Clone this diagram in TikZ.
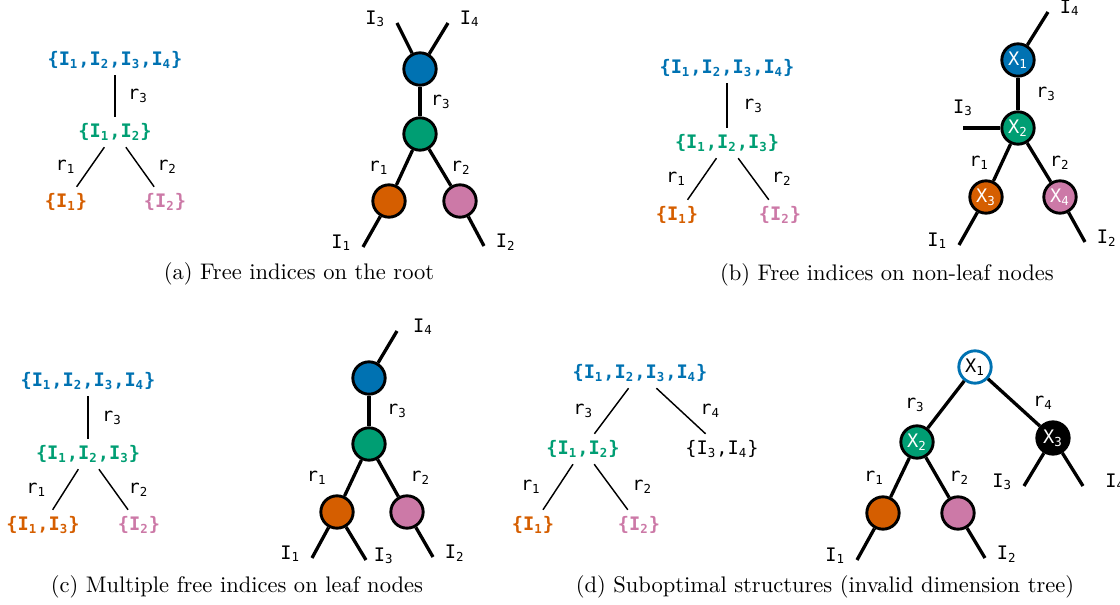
\documentclass[tikz,border=0pt]{standalone}
\usepackage{fontspec}
\setmonofont{DejaVu Sans Mono}
\usetikzlibrary{positioning}

\definecolor{cblue}{HTML}{0072B2}
\definecolor{cgreen}{HTML}{009E73}
\definecolor{corange}{HTML}{D55E00}
\definecolor{cpink}{HTML}{CC79A7}

\newcommand{\idx}[1]{I\textsubscript{#1}}
\newcommand{\rk}[1]{r\textsubscript{#1}}
\newcommand{\tn}[1]{X\textsubscript{#1}}

\tikzset{
    % Index set of a dimension tree node
    setnode/.style={
        font=\ttfamily\bfseries\small,
        inner sep=3pt
    },
    % Plain (black) index set
    plainset/.style={
        font=\ttfamily\small,
        inner sep=3pt
    },
    % Thin edge of a dimension tree
    treeline/.style={
        line width=0.7pt,
        draw=black
    },
    % Tensor of the network
    tensor/.style={
        circle,
        draw=black,
        line width=1.4pt,
        minimum size=0.55cm,
        inner sep=0pt,
        text=white,
        font=\ttfamily\small
    },
    % Bond between two tensors
    bond/.style={
        line width=1.6pt,
        draw=black
    },
    % Rank label on an edge
    rank/.style={
        font=\ttfamily\small,
        inner sep=0pt
    },
    % Free index label
    leg/.style={
        font=\ttfamily\small,
        inner sep=0pt,
        yshift=2pt
    },
    % Sub-figure caption
    caption/.style={
        font=\fontsize{10.9}{13}\selectfont
    }
}

\begin{document}
\begin{tikzpicture}[x=0.017cm, y=-0.017cm]

    \useasboundingbox (0,0) rectangle (1120,605);

    % ========== (a) DIMENSION TREE ==========
    \node[setnode, text=cblue] (aroot) at (115,60) {\{\idx1,\idx2,\idx3,\idx4\}};
    \node[setnode, text=cgreen] (amid) at (115,132) {\{\idx1,\idx2\}};
    \node[setnode, text=corange] (aleft) at (66,202) {\{\idx1\}};
    \node[setnode, text=cpink] (aright) at (165,202) {\{\idx2\}};

    \draw[treeline] (aroot) -- node[rank, right=6pt] {\rk3} (amid);
    \draw[treeline] (amid) -- node[rank, left=7pt] {\rk1} (aleft);
    \draw[treeline] (amid) -- node[rank, right=8pt] {\rk2} (aright);

    % ========== (a) TENSOR NETWORK ==========
    \node[tensor, fill=cblue] (atop) at (420,69) {};
    \node[tensor, fill=cgreen] (acore) at (420,134) {};
    \node[tensor, fill=corange] (aleaf1) at (389,201) {};
    \node[tensor, fill=cpink] (aleaf2) at (460,201) {};

    \coordinate (aI3) at (397,23);
    \coordinate (aI4) at (448,23);
    \coordinate (aI1) at (363,247);
    \coordinate (aI2) at (484,246);

    \draw[bond] (atop) -- node[rank, right=4.5pt] {\rk3} (acore);
    \draw[bond] (acore) -- node[rank, left=7pt] {\rk1} (aleaf1);
    \draw[bond] (acore) -- node[rank, right=4.5pt] {\rk2} (aleaf2);
    \draw[bond] (atop) -- (aI3) node[leg, left=5pt] {\idx3};
    \draw[bond] (atop) -- (aI4) node[leg, right=5pt] {\idx4};
    \draw[bond] (aleaf1) -- (aI1) node[leg, left=5pt] {\idx1};
    \draw[bond] (aleaf2) -- (aI2) node[leg, right=5pt] {\idx2};

    \node[caption] (acap) at (299,274) {(a) Free indices on the root};

    % ========== (b) DIMENSION TREE ==========
    \node[setnode, text=cblue] (broot) at (727,68) {\{\idx1,\idx2,\idx3,\idx4\}};
    \node[setnode, text=cgreen] (bmid) at (727,143) {\{\idx1,\idx2,\idx3\}};
    \node[setnode, text=corange] (bleft) at (677,215) {\{\idx1\}};
    \node[setnode, text=cpink] (bright) at (780,215) {\{\idx2\}};

    \draw[treeline] (broot) -- node[rank, right=7.5pt] {\rk3} (bmid);
    \draw[treeline] (bmid) -- node[rank, left=7.5pt] {\rk1} (bleft);
    \draw[treeline] (bmid) -- node[rank, right=8.5pt] {\rk2} (bright);

    % ========== (b) TENSOR NETWORK ==========
    \node[tensor, fill=cblue] (btop) at (1018,60) {\tn1};
    \node[tensor, fill=cgreen] (bcore) at (1018,128) {\tn2};
    \node[tensor, fill=corange] (bleaf1) at (986,197) {\tn3};
    \node[tensor, fill=cpink] (bleaf2) at (1060,197) {\tn4};

    \coordinate (bI4) at (1048,12);
    \coordinate (bI3) at (963,128);
    \coordinate (bI1) at (959,245);
    \coordinate (bI2) at (1085,242);

    \draw[bond] (btop) -- node[rank, right=8pt] {\rk3} (bcore);
    \draw[bond] (bcore) -- node[rank, left=5.5pt] {\rk1} (bleaf1);
    \draw[bond] (bcore) -- node[rank, right=4.5pt] {\rk2} (bleaf2);
    \draw[bond] (btop) -- (bI4) node[leg, right=5pt] {\idx4};
    \draw[bond] (bcore) -- (bI3) node[leg, above=3pt] {\idx3};
    \draw[bond] (bleaf1) -- (bI1) node[leg, left=5pt] {\idx1};
    \draw[bond] (bleaf2) -- (bI2) node[leg, right=5pt] {\idx2};

    \node[caption] (bcap) at (887,275) {(b) Free indices on non-leaf nodes};

    % ========== (c) DIMENSION TREE ==========
    \node[setnode, text=cblue] (croot) at (88,381) {\{\idx1,\idx2,\idx3,\idx4\}};
    \node[setnode, text=cgreen] (cmid) at (88,454) {\{\idx1,\idx2,\idx3\}};
    \node[setnode, text=corange] (cleft) at (43,525) {\{\idx1,\idx3\}};
    \node[setnode, text=cpink] (cright) at (139,525) {\{\idx2\}};

    \draw[treeline] (croot) -- node[rank, right=6.5pt] {\rk3} (cmid);
    \draw[treeline] (cmid) -- node[rank, left=9pt] {\rk1} (cleft);
    \draw[treeline] (cmid) -- node[rank, right=7pt] {\rk2} (cright);

    % ========== (c) TENSOR NETWORK ==========
    \node[tensor, fill=cblue] (ctop) at (369,378) {};
    \node[tensor, fill=cgreen] (ccore) at (369,444) {};
    \node[tensor, fill=corange] (cleaf1) at (337,512) {};
    \node[tensor, fill=cpink] (cleaf2) at (407,512) {};

    \coordinate (cI4) at (397,331);
    \coordinate (cI1) at (312,558);
    \coordinate (cI3) at (366,560);
    \coordinate (cI2) at (433,557);

    \draw[bond] (ctop) -- node[rank, right=8pt] {\rk3} (ccore);
    \draw[bond] (ccore) -- node[rank, left=12pt] {\rk1} (cleaf1);
    \draw[bond] (ccore) -- node[rank, right=10pt] {\rk2} (cleaf2);
    \draw[bond] (ctop) -- (cI4) node[leg, right=7pt] {\idx4};
    \draw[bond] (cleaf1) -- (cI1) node[leg, left=5pt] {\idx1};
    \draw[bond] (cleaf1) -- (cI3) node[leg, right=3pt] {\idx3};
    \draw[bond] (cleaf2) -- (cI2) node[leg, right=5pt] {\idx2};

    \node[caption] (ccap) at (237,587) {(c) Multiple free indices on leaf nodes};

    % ========== (d) DIMENSION TREE ==========
    \node[setnode, text=cblue] (droot) at (640,373) {\{\idx1,\idx2,\idx3,\idx4\}};
    \node[setnode, text=cgreen] (dmid) at (583,449) {\{\idx1,\idx2\}};
    \node[plainset] (dside) at (722,449) {\{\idx3,\idx4\}};
    \node[setnode, text=corange] (dleft) at (533,525) {\{\idx1\}};
    \node[setnode, text=cpink] (dright) at (639,525) {\{\idx2\}};

    \draw[treeline] (droot) -- node[rank, left=8.5pt] {\rk3} (dmid);
    \draw[treeline] (droot) -- node[rank, right=9pt] {\rk4} (dside);
    \draw[treeline] (dmid) -- node[rank, left=8pt] {\rk1} (dleft);
    \draw[treeline] (dmid) -- node[rank, right=10pt] {\rk2} (dright);

    % ========== (d) TENSOR NETWORK ==========
    \node[tensor, fill=white, draw=cblue, text=black] (dtop) at (975,367) {\tn1};
    \node[tensor, fill=cgreen] (dcore) at (917,442) {\tn2};
    \node[tensor, fill=black] (dside2) at (1053,438) {\tn3};
    \node[tensor, fill=corange] (dleaf1) at (883,513) {};
    \node[tensor, fill=cpink] (dleaf2) at (958,513) {};

    \coordinate (dI1) at (857,560);
    \coordinate (dI2) at (985,558);
    \coordinate (dI3) at (1024,486);
    \coordinate (dI4) at (1083,486);

    \draw[bond] (dtop) -- node[rank, left=9.5pt] {\rk3} (dcore);
    \draw[bond] (dtop) -- node[rank, right=8.5pt] {\rk4} (dside2);
    \draw[bond] (dcore) -- node[rank, left=7pt] {\rk1} (dleaf1);
    \draw[bond] (dcore) -- node[rank, right=5pt] {\rk2} (dleaf2);
    \draw[bond] (dleaf1) -- (dI1) node[leg, left=5pt] {\idx1};
    \draw[bond] (dleaf2) -- (dI2) node[leg, right=5pt] {\idx2};
    \draw[bond] (dside2) -- (dI3) node[leg, left=5pt] {\idx3};
    \draw[bond] (dside2) -- (dI4) node[leg, right=10pt] {\idx4};

    \node[caption] (dcap) at (825,587) {(d) Suboptimal structures (invalid dimension tree)};

\end{tikzpicture}
\end{document}
